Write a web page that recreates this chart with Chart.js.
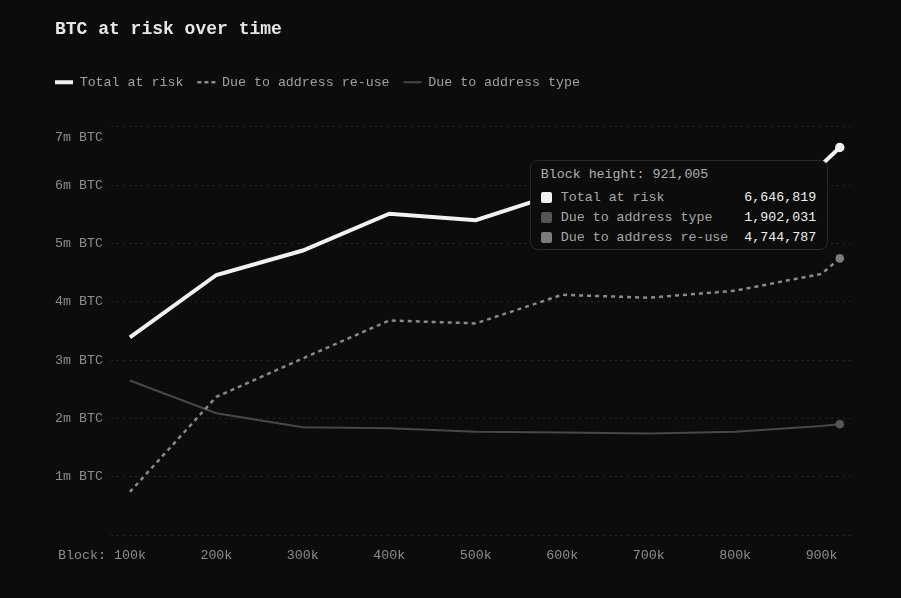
<!DOCTYPE html>
<html>
<head>
<meta charset="utf-8">
<script src="https://cdn.jsdelivr.net/npm/chart.js@4.4.1/dist/chart.umd.min.js"></script>
<style>
  html, body { margin: 0; padding: 0; background: #0c0c0c; }
  #wrap { position: relative; width: 901px; height: 598px; }
  #tip {
    position: absolute; opacity: 0; pointer-events: none;
    background: #0c0c0c; border: 1px solid #2a2a2a; border-radius: 8px;
    padding: 4px 11px 2px 10px;
    font: 13.3px 'Liberation Mono', 'DejaVu Sans Mono', monospace;
    color: #a8a8a8; white-space: nowrap;
  }
  #tip .tt { line-height: 20px; margin-bottom: 2px; color: #b0b0b0; }
  #tip .row { display: flex; align-items: center; height: 20px; }
  #tip .sw { width: 11px; height: 11px; border-radius: 2px; margin-right: 9px; }
  #tip .vl { margin-left: auto; padding-left: 16px; color: #f0f0f0; }
</style>
</head>
<body>
<div id="wrap"><canvas id="chart"></canvas><div id="tip"></div></div>
<script>
const blocks = [100000, 200000, 300000, 400000, 500000, 600000, 700000, 800000, 900000, 921005];
const totalAtRisk = [3390000, 4460000, 4880000, 5510000, 5400000, 5880000, 5810000, 5960000, 6350000, 6646819];
const dueToReuse = [740000, 2370000, 3030000, 3680000, 3630000, 4120000, 4070000, 4190000, 4480000, 4744787];
const dueToType = [2650000, 2090000, 1850000, 1830000, 1770000, 1760000, 1740000, 1770000, 1870000, 1902031];
const xTicks = [100000, 200000, 300000, 400000, 500000, 600000, 700000, 800000, 900000];
const yTicks = [0, 1000000, 2000000, 3000000, 4000000, 5000000, 6000000, 7000000];

const mono = "'Liberation Mono', 'DejaVu Sans Mono', monospace";
const last = blocks.length - 1;
const tipOrder = [0, 2, 1];
const legendDash = [[], [4, 3], []];

function pts(values) {
  return blocks.map((b, i) => ({ x: b, y: values[i] }));
}
function endDot(r) {
  return ctx => ctx.dataIndex === last ? r : 0;
}

Chart.Tooltip.positioners.topPoint = function (items) {
  if (!items.length) return false;
  let y = Infinity;
  items.forEach(it => { y = Math.min(y, it.element.y); });
  return { x: items[0].element.x, y: y };
};

function renderTip(context) {
  const tip = document.getElementById('tip');
  const t = context.tooltip;
  if (t.opacity === 0) { tip.style.opacity = 0; return; }
  let html = '<div class="tt">' + t.title.join('') + '</div>';
  t.dataPoints.forEach((dp, i) => {
    html += '<div class="row"><span class="sw" style="background:' + t.labelColors[i].backgroundColor + '"></span>' +
      '<span class="lb">' + dp.dataset.label + '</span>' +
      '<span class="vl">' + Math.round(dp.parsed.y).toLocaleString('en-US') + '</span></div>';
  });
  tip.innerHTML = html;
  tip.style.opacity = 1;
  tip.style.left = (t.caretX - 12 - tip.offsetWidth) + 'px';
  tip.style.top = (t.caretY + 13) + 'px';
}

// extra room under the legend; title and legend start a bit right of the axis labels
const legendGap = {
  id: 'legendGap',
  beforeInit(chart) {
    const fit = chart.legend.fit;
    chart.legend.fit = function () {
      fit.bind(chart.legend)();
      this.height += 28;
    };
  },
  afterLayout(chart) {
    chart.titleBlock.left += 8;
    chart.legend.left = chart.titleBlock.left - 14;
  }
};

const ctx = document.getElementById('chart');

const chart = new Chart(ctx, {
  type: 'line',
  data: {
    datasets: [{
      label: 'Total at risk',
      data: pts(totalAtRisk),
      borderColor: '#f2f2f2',
      backgroundColor: '#f2f2f2',
      borderWidth: 4,
      pointRadius: endDot(4.7),
      pointBorderWidth: 0
    }, {
      label: 'Due to address re-use',
      data: pts(dueToReuse),
      borderColor: '#8a8a8a',
      backgroundColor: '#7c7c7c',
      borderWidth: 2.5,
      borderDash: [4, 4],
      pointRadius: endDot(4.3),
      pointBorderWidth: 0
    }, {
      label: 'Due to address type',
      data: pts(dueToType),
      borderColor: '#484848',
      backgroundColor: '#3c3c3c',
      borderWidth: 2,
      pointRadius: endDot(4.3),
      pointBackgroundColor: '#555555',
      pointBorderWidth: 0
    }]
  },
  options: {
    responsive: true,
    maintainAspectRatio: false,
    animation: false,
    layout: { padding: { top: 19, left: 47, right: 50, bottom: 23 } },
    interaction: { mode: 'index', intersect: false },
    elements: { line: { tension: 0 } },
    scales: {
      x: {
        type: 'linear',
        min: 78000,
        max: 934000,
        afterBuildTicks: axis => { axis.ticks = xTicks.map(v => ({ value: v })); },
        afterFit: axis => { axis.paddingLeft = 0; axis.paddingRight = 0; },
        grid: { display: false, drawTicks: false },
        border: { display: false },
        ticks: {
          autoSkip: false,
          maxRotation: 0,
          padding: 12,
          color: '#8c8c8c',
          font: { family: mono, size: 13.3 },
          callback: v => v === xTicks[0] ? 'Block: ' + (v / 1000) + 'k       ' : (v / 1000) + 'k'
        }
      },
      y: {
        min: 0,
        max: 7000000,
        afterBuildTicks: axis => { axis.ticks = yTicks.map(v => ({ value: v })); },
        grid: { color: '#262626', drawTicks: false, lineWidth: 1 },
        border: { display: false, dash: [2, 4] },
        ticks: {
          padding: 8,
          color: '#8c8c8c',
          font: c => (c.tick && c.tick.value === 7000000)
            ? { family: mono, size: 13.3, lineHeight: '22px' }
            : { family: mono, size: 13.3 },
          callback: v => {
            if (v === 0) return '';
            const s = (v / 1000000) + 'm BTC';
            return v === 7000000 ? ['', s] : s;
          }
        }
      }
    },
    plugins: {
      title: {
        display: true,
        text: 'BTC at risk over time',
        align: 'start',
        color: '#e6e6e6',
        font: { family: mono, size: 18, weight: 'bold' },
        padding: { top: 0, bottom: 21 }
      },
      legend: {
        align: 'start',
        labels: {
          usePointStyle: true,
          pointStyleWidth: 18,
          padding: 14,
          color: '#a0a0a0',
          font: { family: mono, size: 13.3 },
          generateLabels: chart => chart.data.datasets.map((ds, i) => ({
            text: ds.label,
            datasetIndex: i,
            pointStyle: 'line',
            strokeStyle: ds.borderColor,
            fillStyle: ds.borderColor,
            lineWidth: ds.borderWidth,
            lineDash: legendDash[i],
            fontColor: '#a0a0a0',
            hidden: false
          }))
        }
      },
      tooltip: {
        enabled: false,
        animation: false,
        position: 'topPoint',
        external: renderTip,
        itemSort: (a, b) => tipOrder.indexOf(a.datasetIndex) - tipOrder.indexOf(b.datasetIndex),
        callbacks: {
          title: items => 'Block height: ' + items[0].parsed.x.toLocaleString('en-US')
        }
      }
    }
  },
  plugins: [legendGap]
});

chart.tooltip.setActiveElements(
  [0, 1, 2].map(i => ({ datasetIndex: i, index: last })),
  { x: 0, y: 0 }
);
chart.update();
</script>
</body>
</html>
